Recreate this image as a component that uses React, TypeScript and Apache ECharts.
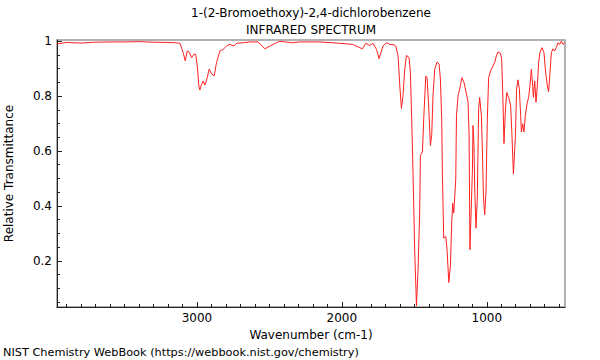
import React, { useEffect, useRef } from "react";
import * as echarts from "echarts";

const titleLines = ["1-(2-Bromoethoxy)-2,4-dichlorobenzene", "INFRARED SPECTRUM"];
const footer = "NIST Chemistry WebBook (https://webbook.nist.gov/chemistry)";

const wavenumbers = [
  3966, 3900, 3800, 3700, 3600, 3500, 3400, 3300, 3200, 3150, 3118, 3095, 3081, 3067, 3054, 3037, 3021, 3009,
  2998, 2987, 2980, 2968, 2957, 2945, 2929, 2916, 2899, 2881, 2865, 2842, 2819, 2796, 2773, 2745, 2727, 2681,
  2635, 2578, 2531, 2497, 2451, 2428, 2338, 2290, 2152, 2014, 1925, 1876, 1858, 1835, 1807, 1785, 1761, 1743,
  1727, 1716, 1692, 1669, 1647, 1628, 1612, 1600, 1589, 1578, 1566, 1554, 1536, 1527, 1518, 1509, 1497, 1485,
  1474, 1463, 1458, 1444, 1435, 1421, 1412, 1402, 1389, 1380, 1371, 1359, 1343, 1329, 1320, 1311, 1306, 1302,
  1297, 1283, 1274, 1262, 1251, 1242, 1235, 1228, 1214, 1209, 1198, 1187, 1171, 1157, 1140, 1129, 1122, 1116,
  1106, 1099, 1095, 1088, 1083, 1074, 1065, 1056, 1049, 1037, 1028, 1023, 1014, 1005, 996, 987, 973, 957, 945,
  934, 923, 906, 897, 888, 881, 871, 862, 849, 835, 826, 816, 802, 794, 785, 775, 766, 761, 752, 743, 734, 720,
  711, 702, 692, 683, 678, 669, 660, 651, 642, 633, 619, 605, 596, 582, 573, 564, 554, 543, 532, 520, 509, 497,
  485, 474, 462,
];

const transmittance = [
  0.99, 0.995, 0.993, 0.996, 0.997, 0.997, 0.998, 0.996, 0.995, 0.994, 0.992, 0.958, 0.928, 0.964, 0.96, 0.94,
  0.952, 0.952, 0.91, 0.837, 0.822, 0.843, 0.855, 0.84, 0.867, 0.898, 0.88, 0.874, 0.922, 0.964, 0.97, 0.982,
  0.988, 0.982, 0.992, 0.994, 0.997, 0.997, 0.972, 0.982, 0.994, 0.999, 0.994, 0.997, 0.997, 0.992, 0.988,
  0.976, 0.972, 0.992, 0.984, 0.992, 0.97, 0.936, 0.964, 0.982, 0.994, 0.988, 0.988, 0.982, 0.946, 0.837,
  0.755, 0.801, 0.898, 0.948, 0.94, 0.885, 0.717, 0.523, 0.23, 0.036, 0.169, 0.374, 0.584, 0.596, 0.717, 0.873,
  0.867, 0.777, 0.62, 0.657, 0.801, 0.898, 0.924, 0.916, 0.862, 0.717, 0.512, 0.41, 0.283, 0.289, 0.241, 0.121,
  0.181, 0.338, 0.41, 0.374, 0.494, 0.729, 0.801, 0.825, 0.867, 0.849, 0.807, 0.777, 0.657, 0.241, 0.41, 0.53,
  0.693, 0.62, 0.458, 0.319, 0.434, 0.753, 0.795, 0.729, 0.56, 0.434, 0.368, 0.458, 0.717, 0.867, 0.892, 0.91,
  0.922, 0.946, 0.96, 0.956, 0.934, 0.777, 0.627, 0.753, 0.813, 0.795, 0.765, 0.657, 0.516, 0.657, 0.825,
  0.859, 0.825, 0.729, 0.669, 0.699, 0.669, 0.729, 0.777, 0.795, 0.837, 0.898, 0.837, 0.795, 0.855, 0.777,
  0.837, 0.922, 0.958, 0.976, 0.958, 0.898, 0.837, 0.816, 0.885, 0.958, 0.972, 0.964, 0.976, 0.994, 0.988, 1.0,
  0.988, 0.994,
];

const xMajorTicks = [1000, 2000, 3000];
const xMinorTicks = [
  500, 600, 700, 800, 900, 1100, 1200, 1300, 1400, 1500, 1600, 1700, 1800, 1900, 2100, 2200, 2300, 2400, 2500,
  2600, 2700, 2800, 2900, 3100, 3200, 3300, 3400, 3500, 3600, 3700, 3800, 3900,
];
const yMajorTicks = [0.2, 0.4, 0.6, 0.8, 1];
const yMinorTicks = [0.05, 0.1, 0.15, 0.25, 0.3, 0.35, 0.45, 0.5, 0.55, 0.65, 0.7, 0.75, 0.85, 0.9, 0.95];

const FONT = "DejaVu Sans";
const X_MIN = 460;
const X_MAX = 3966;
const Y_MIN = 0.032;
const Y_MAX = 1.004;

export default function App() {
  const ref = useRef<HTMLDivElement>(null);
  useEffect(() => {
    if (!ref.current) return;
    const chart = echarts.init(ref.current, undefined, { renderer: "svg" });
    const data = wavenumbers.map((w, i) => [w, transmittance[i]]);
    const axisLine = { show: true, lineStyle: { color: "#222", width: 1 } };
    chart.setOption({
      animation: false,
      backgroundColor: "#fff",
      grid: {
        left: 57,
        right: 35,
        top: 40,
        bottom: 53,
        containLabel: false,
        outerBoundsMode: "none",
        show: true,
        borderColor: "#999",
        borderWidth: 1.5,
        backgroundColor: "transparent",
      },
      graphic: [
        {
          type: "text",
          x: 311,
          y: 13,
          style: { text: titleLines[0], font: `12px "${FONT}"`, fill: "#000", textAlign: "center", textVerticalAlign: "middle" },
        },
        {
          type: "text",
          x: 311,
          y: 30,
          style: { text: titleLines[1], font: `12px "${FONT}"`, fill: "#000", textAlign: "center", textVerticalAlign: "middle" },
        },
        {
          type: "text",
          x: 3,
          y: 352,
          style: { text: footer, font: `11.3px "${FONT}"`, fill: "#000", textAlign: "left", textVerticalAlign: "middle" },
        },
      ],
      xAxis: [
        {
          type: "value",
          inverse: true,
          min: X_MIN,
          max: X_MAX,
          position: "bottom",
          name: "Wavenumber (cm-1)",
          nameLocation: "middle",
          nameGap: 18,
          nameTextStyle: { fontFamily: FONT, fontSize: 12, color: "#000" },
          axisLine,
          splitLine: { show: false },
          axisTick: { show: true, inside: true, length: 5, customValues: xMajorTicks, lineStyle: { color: "#222" } },
          axisLabel: {
            show: true,
            customValues: xMajorTicks,
            fontFamily: FONT,
            fontSize: 12,
            color: "#000",
            margin: 5,
            formatter: (v: number) => String(Math.round(v)),
          },
        },
        {
          type: "value",
          inverse: true,
          min: X_MIN,
          max: X_MAX,
          position: "bottom",
          gridIndex: 0,
          axisLine: { show: false },
          splitLine: { show: false },
          axisTick: { show: true, inside: true, length: 3, customValues: xMinorTicks, lineStyle: { color: "#222" } },
          axisLabel: { show: false },
        },
      ],
      yAxis: [
        {
          type: "value",
          min: Y_MIN,
          max: Y_MAX,
          position: "left",
          name: "Relative Transmittance",
          nameLocation: "middle",
          nameGap: 42,
          nameTextStyle: { fontFamily: FONT, fontSize: 12, color: "#000" },
          axisLine,
          splitLine: { show: false },
          axisTick: { show: true, inside: true, length: 5, customValues: yMajorTicks, lineStyle: { color: "#222" } },
          axisLabel: {
            show: true,
            customValues: yMajorTicks,
            fontFamily: FONT,
            fontSize: 12,
            color: "#000",
            margin: 5,
            formatter: (v: number) => String(Math.round(v * 100) / 100),
          },
        },
        {
          type: "value",
          min: Y_MIN,
          max: Y_MAX,
          position: "left",
          axisLine: { show: false },
          splitLine: { show: false },
          axisTick: { show: true, inside: true, length: 3, customValues: yMinorTicks, lineStyle: { color: "#222" } },
          axisLabel: { show: false },
        },
      ],
      series: [
        {
          type: "line",
          xAxisIndex: 0,
          yAxisIndex: 0,
          data,
          showSymbol: false,
          symbol: "none",
          lineStyle: { color: "#ff2020", width: 1 },
          smooth: false,
        },
      ],
    });
    return () => chart.dispose();
  }, []);
  return <div ref={ref} style={{ position: "absolute", left: 0, top: 0, width: 600, height: 360 }} />;
}
